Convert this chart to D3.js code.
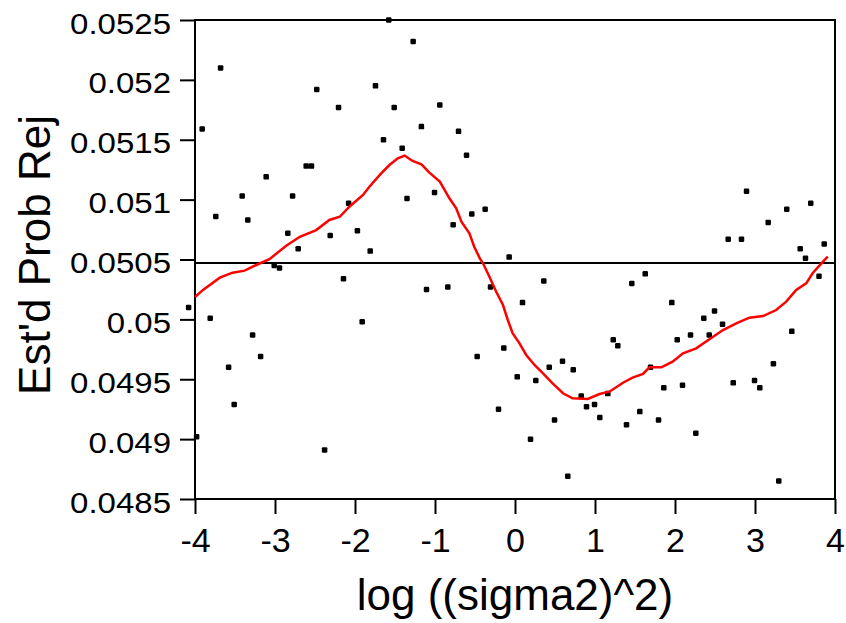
<!DOCTYPE html>
<html>
<head>
<meta charset="utf-8">
<script src="https://cdn.jsdelivr.net/npm/d3@7"></script>
<style>
  body { margin: 0; background: #fff; }
  text { font-family: "Liberation Sans", Arial, sans-serif; fill: #000; }
</style>
</head>
<body>
<div id="scatter"></div>
<script>
// data
var pointX = [-1.578, -3.68, -3.91, -2.478, -2.206, -1.744, -1.51, -1.644, -1.41, -2.61,
  -2.544, -3.11, -3.41, -2.78, -1.35, -2.08, -3.74, -3.34, -2.84, -1.97,
  -2.31, -2.71, -1.81, -1.273, -0.94, -1.17, -0.706, -0.606, -1.006, -0.373,
  -0.54, -0.773, -0.073, 2.894, 3.397, 3.697, 3.165, 2.665, 2.831, 3.565,
  3.865, 3.631, -3.01, -2.944, -2.144, -4.08, -3.81, -1.91, -3.28, -3.18,
  -3.58, -3.51, -3.98, -2.38, -1.106, -0.84, -0.306, 0.36, 0.094, 1.228,
  1.285, -0.473, -0.14, 0.594, 0.428, 0.728, 0.028, 0.26, 0.828, 0.994,
  0.894, 1.16, -0.206, 1.06, 0.494, 0.194, 0.66, 3.80, 1.628, 1.46,
  1.96, 2.494, 2.36, 2.594, 2.028, 2.194, 2.428, 3.46, 3.23, 1.694,
  2.728, 2.994, 3.06, 2.094, 1.86, 1.56, 1.794, 1.394, 2.26, 3.297];
var pointY = [0.05250, 0.05210, 0.05159, 0.05192, 0.05177, 0.05195, 0.05177, 0.05150, 0.05143, 0.05128,
  0.05128, 0.05119, 0.05103, 0.05103, 0.05101, 0.05097, 0.05086, 0.05083, 0.05072, 0.05074,
  0.05070, 0.05059, 0.05057, 0.05232, 0.05179, 0.05161, 0.05157, 0.05137, 0.05106, 0.05092,
  0.05088, 0.05079, 0.05052, 0.05107, 0.05092, 0.05097, 0.05081, 0.05067, 0.05067, 0.05059,
  0.05063, 0.05051, 0.05045, 0.05043, 0.05034, 0.05010, 0.05001, 0.04998, 0.04987, 0.04969,
  0.04960, 0.04929, 0.04902, 0.04891, 0.05025, 0.05027, 0.05027, 0.05032, 0.05014, 0.04983,
  0.04978, 0.04969, 0.04976, 0.04965, 0.04960, 0.04958, 0.04952, 0.04949, 0.04936, 0.04929,
  0.04927, 0.04938, 0.04925, 0.04918, 0.04916, 0.04900, 0.04869, 0.05036, 0.05038, 0.05030,
  0.05014, 0.05007, 0.05001, 0.04996, 0.04983, 0.04987, 0.04987, 0.04990, 0.04963, 0.04960,
  0.04947, 0.04949, 0.04943, 0.04945, 0.04943, 0.04923, 0.04916, 0.04912, 0.04905, 0.04865];

// smoothed curve (red)
var curveX = [-4.0, -3.90, -3.69, -3.53, -3.38, -3.235, -3.07, -2.86, -2.69, -2.485,
  -2.32, -2.19, -2.07, -1.90, -1.82, -1.69, -1.57, -1.465, -1.38, -1.28,
  -1.17, -1.07, -0.94, -0.82, -0.735, -0.67, -0.57, -0.51, -0.44, -0.40,
  -0.32, -0.235, -0.15, -0.09, -0.03, 0.056, 0.14, 0.244, 0.35, 0.47,
  0.60, 0.72, 0.91, 1.056, 1.18, 1.35, 1.47, 1.60, 1.68, 1.83,
  1.97, 2.10, 2.265, 2.43, 2.60, 2.765, 2.93, 3.10, 3.265, 3.39,
  3.515, 3.64, 3.72, 3.85, 3.91];
var curveY = [0.050187, 0.050246, 0.050348, 0.05039, 0.050407, 0.050454, 0.050502, 0.050615, 0.05069, 0.050746,
  0.05083, 0.050857, 0.050941, 0.051039, 0.051108, 0.051206, 0.051289, 0.051345, 0.051368, 0.051323,
  0.051295, 0.051225, 0.05115, 0.051011, 0.050928, 0.050816, 0.050719, 0.050607, 0.05051, 0.050468,
  0.050356, 0.050231, 0.05012, 0.049995, 0.049884, 0.0498, 0.049703, 0.049619, 0.04955, 0.049466,
  0.049383, 0.049341, 0.049335, 0.049377, 0.049396, 0.049471, 0.049513, 0.049544, 0.0496, 0.0496,
  0.049647, 0.049717, 0.049758, 0.049834, 0.049911, 0.049967, 0.050014, 0.050028, 0.050078, 0.050148,
  0.050245, 0.050301, 0.050385, 0.050482, 0.050523];

// reference line
var refLevel = 0.05047;

var xTicks = [-4, -3, -2, -1, 0, 1, 2, 3, 4];
var xTickLabels = ["-4", "-3", "-2", "-1", "0", "1", "2", "3", "4"];
var yTicks = [0.0485, 0.049, 0.0495, 0.05, 0.0505, 0.051, 0.0515, 0.052, 0.0525];
var yTickLabels = ["0.0485", "0.049", "0.0495", "0.05", "0.0505", "0.051", "0.0515", "0.052", "0.0525"];

var svgWidth = 846;
var svgHeight = 623;

var margin = {
  top: 20,
  right: 11,
  bottom: 124,
  left: 195
};

var width = svgWidth - margin.left - margin.right;
var height = svgHeight - margin.top - margin.bottom;

var svg = d3.select("#scatter")
  .append("svg")
  .attr("width", svgWidth)
  .attr("height", svgHeight);

var chartGroup = svg.append("g")
  .attr("transform", `translate(${margin.left}, ${margin.top})`);

// scales
var xScale = d3.scaleLinear()
  .domain([-4, 4])
  .range([0, width]);

var yScale = d3.scaleLinear()
  .domain([0.0485, 0.0525])
  .range([height, 0]);

// axes
var xAxis = d3.axisBottom(xScale)
  .tickValues(xTicks)
  .tickSize(15)
  .tickFormat((d, i) => xTickLabels[i]);

var yAxis = d3.axisLeft(yScale)
  .tickValues(yTicks)
  .tickSize(15)
  .tickFormat((d, i) => yTickLabels[i]);

var xg = chartGroup.append("g")
  .attr("transform", `translate(0, ${height})`)
  .call(xAxis);
xg.select(".domain").remove();
xg.selectAll("line").attr("stroke", "#000").attr("stroke-width", 2);
xg.selectAll("text")
  .attr("font-size", 34)
  .attr("font-family", "Liberation Sans, Arial, sans-serif")
  .attr("y", null)
  .attr("dy", null)
  .attr("transform", "translate(0, 53)");

var yg = chartGroup.append("g")
  .call(yAxis);
yg.select(".domain").remove();
yg.selectAll("line").attr("stroke", "#000").attr("stroke-width", 2);
yg.selectAll("text")
  .attr("font-size", 30)
  .attr("font-family", "Liberation Sans, Arial, sans-serif")
  .attr("x", null)
  .attr("dy", null)
  .attr("transform", "translate(-24, 13) scale(1.1, 1)");

// frame
chartGroup.append("rect")
  .attr("x", 0)
  .attr("y", 0)
  .attr("width", width)
  .attr("height", height)
  .attr("fill", "none")
  .attr("stroke", "#000")
  .attr("stroke-width", 2);

// horizontal reference line
chartGroup.append("line")
  .attr("x1", 0)
  .attr("x2", width)
  .attr("y1", yScale(refLevel))
  .attr("y2", yScale(refLevel))
  .attr("stroke", "#000")
  .attr("stroke-width", 2);

// points
var points = pointX.map((x, i) => ({ x: x, y: pointY[i] }));
chartGroup.selectAll(".pt")
  .data(points)
  .enter()
  .append("rect")
  .attr("class", "pt")
  .attr("x", d => xScale(d.x) - 2.75)
  .attr("y", d => yScale(d.y) - 2.75)
  .attr("width", 5.5)
  .attr("height", 5.5)
  .attr("rx", 1.2)
  .attr("fill", "#000");

// red smoothed curve
var curve = curveX.map((x, i) => [x, curveY[i]]);
var line = d3.line()
  .x(d => xScale(d[0]))
  .y(d => yScale(d[1]));
chartGroup.append("path")
  .datum(curve)
  .attr("d", line)
  .attr("fill", "none")
  .attr("stroke", "#ff0000")
  .attr("stroke-width", 2.5);

// axis labels
chartGroup.append("text")
  .attr("transform", `translate(${-145}, ${235}) rotate(-90)`)
  .attr("text-anchor", "middle")
  .attr("font-size", 44)
  .text("Est'd Prob Rej");

chartGroup.append("text")
  .attr("x", width / 2)
  .attr("y", height + 111)
  .attr("text-anchor", "middle")
  .attr("font-size", 44)
  .text("log ((sigma2)^2)");
</script>
</body>
</html>
